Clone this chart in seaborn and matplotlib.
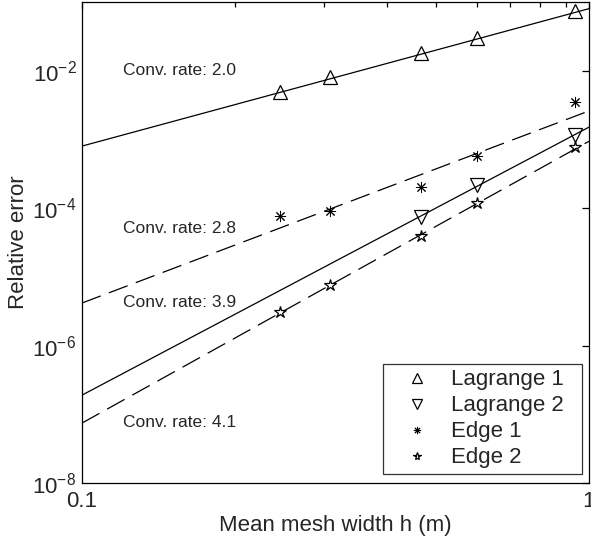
import seaborn as sns
import matplotlib.pyplot as plt
from matplotlib.ticker import NullLocator, FixedLocator, NullFormatter

# Measured points (mean mesh width h, relative error)
h_lag1 = [0.246, 0.308, 0.466, 0.60, 0.94]
err_lag1 = [4.9e-3, 8.1e-3, 1.81e-2, 3.0e-2, 7.4e-2]
h_lag2 = [0.466, 0.60, 0.94]
err_lag2 = [7.4e-5, 2.17e-4, 1.16e-3]
h_edge1 = [0.246, 0.308, 0.466, 0.60, 0.94]
err_edge1 = [7.7e-5, 9.1e-5, 2.03e-4, 5.7e-4, 3.5e-3]
h_edge2 = [0.246, 0.308, 0.466, 0.60, 0.94]
err_edge2 = [3.08e-6, 7.6e-6, 3.93e-5, 1.19e-4, 7.75e-4]

# Fitted convergence lines, values at h=0.1 and h=1
fit_h = [0.1, 1.0]
fit_lag1 = [8.0e-4, 8.0e-2]
fit_edge1 = [4.16e-6, 2.6e-3]
fit_lag2 = [1.9e-7, 1.51e-3]
fit_edge2 = [7.45e-8, 9.4e-4]
rates = ['2.0', '2.8', '3.9', '4.1']

sns.set_style("white")
plt.rcParams['font.family'] = ['Liberation Sans', 'DejaVu Sans']
plt.rcParams['mathtext.fontset'] = 'custom'
plt.rcParams['mathtext.rm'] = 'Liberation Sans'

fig = plt.figure(figsize=(5.91, 5.38), dpi=100)
ax = fig.add_axes([82 / 591, 1 - 483 / 538, 507 / 591, 481 / 538])

# Data markers (only markers, hollow)
mk = dict(linestyle='', color='k', mfc='none', mec='k', mew=0.9)
sns.lineplot(x=h_lag1, y=err_lag1, marker='^', ms=10, label='Lagrange 1', ax=ax, **mk)
sns.lineplot(x=h_lag2, y=err_lag2, marker='v', ms=10, label='Lagrange 2', ax=ax, **mk)
sns.lineplot(x=h_edge1, y=err_edge1, marker=(8, 2, 0), ms=8, label='Edge 1', ax=ax,
             linestyle='', color='k', mec='k', mew=0.7)
sns.lineplot(x=h_edge2, y=err_edge2, marker='*', ms=9, label='Edge 2', ax=ax, **mk)

# Fitted lines
dash = (0, (16, 7))
sns.lineplot(x=fit_h, y=fit_lag1, color='k', lw=0.9, ax=ax, legend=False)
sns.lineplot(x=fit_h, y=fit_edge1, color='k', lw=0.9, linestyle=dash, ax=ax, legend=False)
sns.lineplot(x=fit_h, y=fit_lag2, color='k', lw=0.9, ax=ax, legend=False)
sns.lineplot(x=fit_h, y=fit_edge2, color='k', lw=0.9, linestyle=dash, ax=ax, legend=False)

ax.set_xscale('log')
ax.set_yscale('log')
ax.set_xlim(0.1, 1)
ax.set_ylim(1e-8, 1e-1)

# Rate labels
for yv, r in zip([1.0e-2, 5.1e-5, 4.2e-6, 7.7e-8], rates):
    ax.text(0.1205, yv, 'Conv. rate: ' + r, fontsize=12.5, va='center', ha='left')

# Ticks
ax.xaxis.set_major_locator(FixedLocator([0.1, 1]))
ax.set_xticklabels(['0.1', '1'])
ax.xaxis.set_minor_locator(FixedLocator([0.2, 0.3, 0.4, 0.5, 0.6, 0.7, 0.8, 0.9]))
ax.xaxis.set_minor_formatter(NullFormatter())
yt = [1e-8, 1e-6, 1e-4, 1e-2]
ax.yaxis.set_major_locator(FixedLocator(yt))
ax.set_yticklabels([r'$\mathregular{10^{-8}}$', r'$\mathregular{10^{-6}}$',
                    r'$\mathregular{10^{-4}}$', r'$\mathregular{10^{-2}}$'])
ax.yaxis.set_minor_locator(NullLocator())
ax.tick_params(which='both', direction='in', top=True, right=True, labelsize=16,
               color='k', width=0.9)
ax.tick_params(which='major', length=5, pad=4)
ax.tick_params(axis='x', which='major', pad=6)
ax.tick_params(which='minor', length=3.5)

for s in ax.spines.values():
    s.set_color('k')
    s.set_linewidth(0.9)

ax.set_xlabel('Mean mesh width h (m)', fontsize=16, labelpad=2)
ax.set_ylabel('Relative error', fontsize=16, labelpad=2)

leg = ax.legend(loc='lower left', bbox_to_anchor=(301 / 507, 0.019, 199 / 507, 0.3),
                mode='expand', borderaxespad=0,
                fontsize=16, frameon=True, fancybox=False, edgecolor='k',
                markerscale=0.65, handlelength=2.57, handletextpad=0.25,
                labelspacing=0.225, borderpad=0.25)
leg.get_frame().set_linewidth(0.9)

plt.savefig('out.png', dpi=100)
